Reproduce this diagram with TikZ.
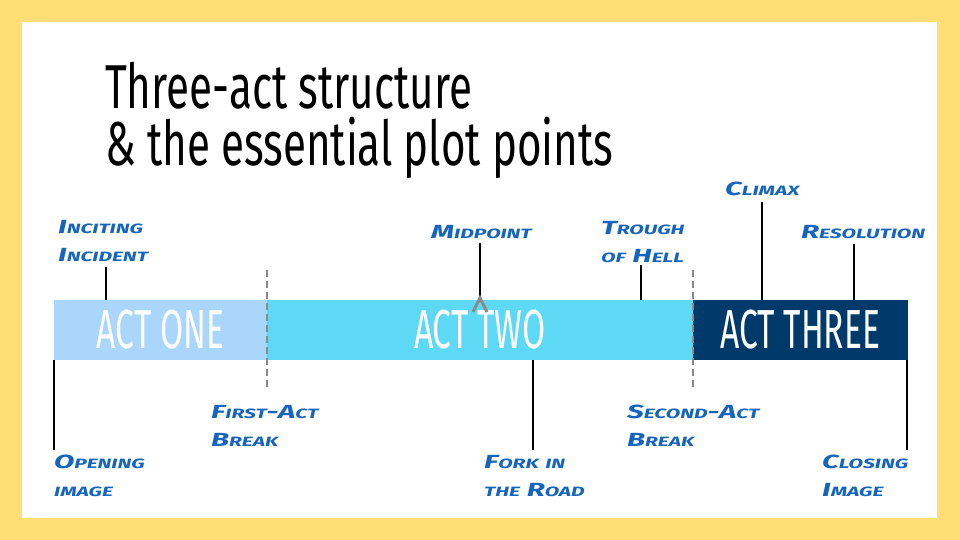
\documentclass[tikz,border=0pt]{standalone}
\usepackage{fontspec}
\setmainfont{Fira Sans}
\newfontfamily\titlefont{Fira Sans}[FakeStretch=0.68]
\newfontfamily\actfont{Fira Sans}[FakeStretch=0.61]
\newfontfamily\handfont{Fira Sans}[FakeStretch=1.56]
\definecolor{bgyellow}{HTML}{FFDE75}
\definecolor{actone}{HTML}{AAD6FB}
\definecolor{acttwo}{HTML}{5DD9F6}
\definecolor{actthree}{HTML}{003A6B}
\definecolor{handblue}{HTML}{1565C0}
\definecolor{dashgray}{HTML}{8A8A8A}
\newcommand\Cp[1]{{\fontsize{19}{28}\selectfont #1}}
\newcommand\Sm[1]{{\fontsize{13.5}{28}\selectfont #1}}
\tikzset{
  actbox/.style={inner sep=0pt, minimum height=60pt, text=white,
    font=\actfont\fontsize{55}{55}\selectfont},
  hand/.style={anchor=north west, inner sep=0pt, align=left, text=handblue,
    font=\handfont\bfseries\itshape\fontsize{19}{28}\selectfont},
  tick/.style={draw=black, line width=2pt},
  breakline/.style={draw=dashgray, line width=2pt, dash pattern=on 7pt off 4pt},
  caret/.style={draw=dashgray, line width=3pt},
}
\begin{document}
\begin{tikzpicture}[x=1pt,y=-1pt]
\fill[bgyellow] (0,0) rectangle (960,540);
\fill[white] (22,22) rectangle (937,518);
\useasboundingbox (0,0) rectangle (960,540);

% title
\node[anchor=north west, inner sep=0pt, align=left,
  font=\titlefont\fontsize{62}{57}\selectfont] (title) at (105,62)
  {Three-act structure\\\& the essential plot points};

% acts
\node[actbox, fill=actone, minimum width=213pt] (a1) at (160.5,330) {ACT ONE};
\node[actbox, fill=acttwo, minimum width=426pt] (a2) at (480,330) {ACT TWO};
\node[actbox, fill=actthree, minimum width=214.5pt] (a3) at (800.25,330) {ACT THREE};

% tick coordinates
\coordinate (t-ii) at (106,267);
\coordinate (t-mid) at (480,243);
\coordinate (t-tr) at (641,265);
\coordinate (t-cl) at (762,202);
\coordinate (t-res) at (854,244);
\coordinate (b-op) at (54,450);
\coordinate (b-fork) at (533,450);
\coordinate (b-close) at (907,450);
\coordinate (d1-top) at (267,270);
\coordinate (d1-bot) at (267,388);
\coordinate (d2-top) at (693,270);
\coordinate (d2-bot) at (693,388);

\draw[tick] (t-ii) -- (t-ii |- a1.north);
\draw[tick] (t-mid) -- (t-mid |- a2.north);
\draw[tick] (t-tr) -- (t-tr |- a2.north);
\draw[tick] (t-cl) -- (t-cl |- a3.north);
\draw[tick] (t-res) -- (t-res |- a3.north);
\draw[tick] (b-op |- a1.south) -- (b-op);
\draw[tick] (b-fork |- a2.south) -- (b-fork);
\draw[tick] (b-close |- a3.south) -- (b-close);
\draw[breakline] (d1-top) -- (d1-bot);
\draw[breakline] (d2-top) -- (d2-bot);

\coordinate (apex) at (480,298);
\draw[caret] (apex) ++(-7,14) -- (apex) -- ++(7,14);

% labels
\node[hand] (l-ii) at (58,220) {\Cp{I}\Sm{NCITING}\\\Cp{I}\Sm{NCIDENT}};
\node[hand] (l-mid) at (431,225) {\Cp{M}\Sm{IDPOINT}};
\node[hand] (l-tr) at (601,221) {\Cp{T}\Sm{ROUGH}\\\Sm{OF} \Cp{H}\Sm{ELL}};
\node[hand] (l-cl) at (725,182) {\Cp{C}\Sm{LIMAX}};
\node[hand] (l-res) at (801,225) {\Cp{R}\Sm{ESOLUTION}};
\node[hand] (l-fab) at (211,405) {\Cp{F}\Sm{IRST}-\Cp{A}\Sm{CT}\\\Cp{B}\Sm{REAK}};
\node[hand] (l-sab) at (627,405) {\Cp{S}\Sm{ECOND}-\Cp{A}\Sm{CT}\\\Cp{B}\Sm{REAK}};
\node[hand] (l-op) at (54,455) {\Cp{O}\Sm{PENING}\\\Sm{IMAGE}};
\node[hand] (l-fork) at (484,455) {\Cp{F}\Sm{ORK} \Sm{IN}\\\Sm{THE} \Cp{R}\Sm{OAD}};
\node[hand] (l-close) at (822,455) {\Cp{C}\Sm{LOSING}\\\Cp{I}\Sm{MAGE}};
\end{tikzpicture}
\end{document}
